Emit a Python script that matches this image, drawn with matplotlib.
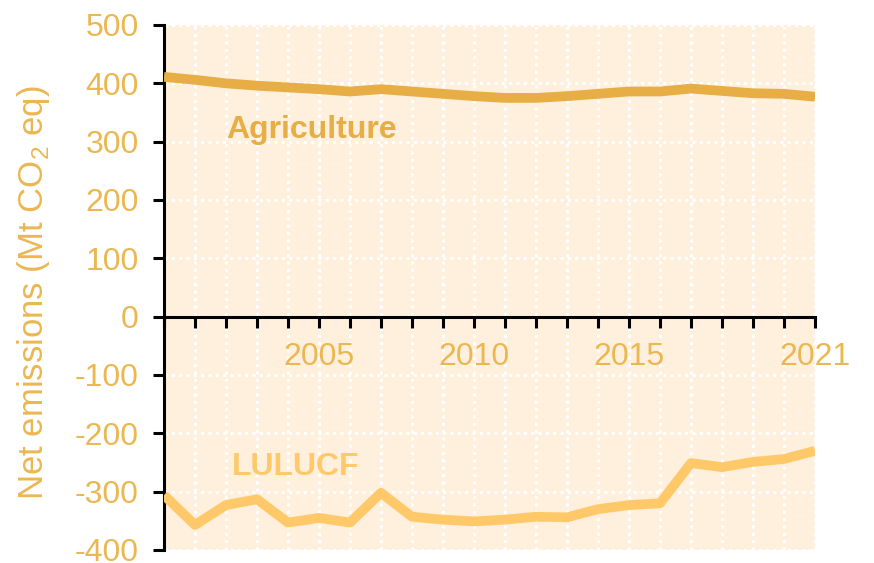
import numpy as np
import matplotlib
matplotlib.use("Agg")
import matplotlib.pyplot as plt

plt.rcParams['font.family'] = ['Liberation Sans', 'DejaVu Sans']
plt.rcParams['axes.unicode_minus'] = False

# Data
years = list(range(2000, 2022))
agriculture = [411, 406, 400, 396, 393, 390, 386, 390, 386, 382, 378,
               375, 375, 378, 382, 386, 386, 391, 387, 383, 382, 377]
lulucf = [-306, -357, -323, -313, -353, -345, -353, -302, -343, -348, -351,
          -348, -343, -344, -330, -323, -320, -251, -258, -249, -244, -230]
labeled_years = [2005, 2010, 2015, 2021]
yticks = list(range(-400, 501, 100))

agri_col = '#E6AE44'
lulucf_col = '#FFC96A'
text_col = '#EBB751'
bg_col = '#FEF0DC'

fig = plt.figure(figsize=(8.74, 5.63), dpi=100)
ax = fig.add_axes([0.1876, 0.0231, 0.9325 - 0.1876, 0.9556 - 0.0231])
ax.set_facecolor(bg_col)

# dotted white grid, kept below the tick labels
dots = (0, (1, 1.4))
ax.vlines(years, -400, 500, colors='white', linestyles=[dots], lw=2.2, zorder=1)
ax.hlines(yticks, 2000, 2021, colors='white', linestyles=[dots], lw=2.2, zorder=1)

ax.plot(years, agriculture, color=agri_col, lw=7, solid_capstyle='butt', zorder=3)
ax.plot(years, lulucf, color=lulucf_col, lw=7, solid_capstyle='butt', zorder=3)

ax.set_xlim(2000, 2021)
ax.set_ylim(-400, 500)
ax.set_yticks(yticks)
ax.set_xticks(years)
ax.set_xticklabels([str(y) if y in labeled_years else '' for y in years])

for s in ('top', 'right'):
    ax.spines[s].set_visible(False)
ax.spines['bottom'].set_position(('data', 0))
ax.spines['bottom'].set_linewidth(2.2)
ax.spines['left'].set_linewidth(2.2)

ax.tick_params(axis='both', direction='out', length=8, width=2.2, color='black',
               labelsize=23, labelcolor=text_col)
ax.tick_params(axis='y', pad=10)
ax.tick_params(axis='x', pad=10)

ax.set_ylabel('Net emissions (Mt CO$_\\mathregular{2}$ eq)', fontsize=25,
              color=text_col)
ax.yaxis.set_label_coords(-0.172, 0.49)

ax.text(2002.0, 320, 'Agriculture', color=agri_col, fontsize=23,
        fontweight='bold', va='center', ha='left')
ax.text(2002.2, -258, 'LULUCF', color=lulucf_col, fontsize=23,
        fontweight='bold', va='center', ha='left')

fig.savefig('out.png', dpi=100)
